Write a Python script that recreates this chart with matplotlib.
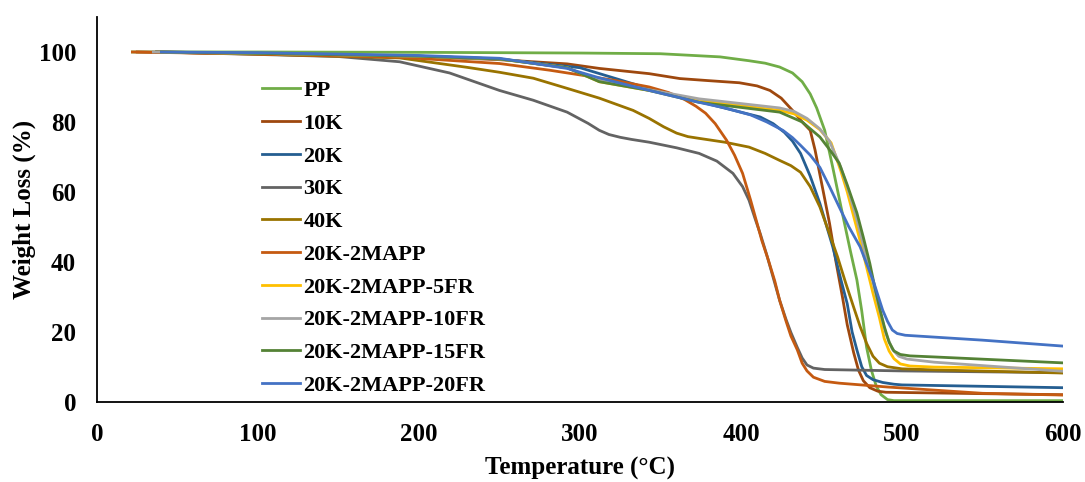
import matplotlib.pyplot as plt

# TGA curves (temperature in °C, weight in %)
pp_t = [22, 100, 200, 300, 350, 387, 405, 415, 424, 432, 438, 443, 447, 452, 457, 463, 468, 472,
        475, 478, 481, 484, 487, 491, 495, 600]
pp_w = [100, 100, 99.9, 99.7, 99.5, 98.6, 97.5, 96.8, 95.7, 94, 91.5, 88, 84, 77.6, 67, 53.8, 43, 34.8,
        26, 15.6, 9, 4.5, 2, 0.6, 0.3, 0.3]

k10_t = [25, 100, 200, 250, 292, 312, 343, 362, 380, 399, 410, 418, 425, 432, 438, 443, 446, 449,
         455, 459, 463, 466, 470, 473, 476, 480, 485, 490, 550, 600]
k10_w = [100, 99.5, 98.7, 97.8, 96.6, 95.3, 93.8, 92.4, 91.8, 91.2, 90.3, 89, 86.8, 83.3, 80, 77.6, 72, 65,
         51, 40, 30, 22, 14, 9, 6, 4, 3, 2.7, 2.3, 2.0]

k20_t = [37, 100, 200, 250, 300, 343, 374, 412, 420, 427, 432, 437, 443, 449, 457, 462, 466, 469,
         472, 475, 478, 482, 488, 495, 500, 600]
k20_w = [100, 99.6, 98.8, 98, 95.5, 89.5, 85.8, 81.4, 79.5, 77, 74.5, 71, 64.5, 56.7, 44.3, 35, 28, 20,
         14.8, 10, 7.5, 6.3, 5.5, 5, 4.8, 4.0]

k30_t = [37, 100, 150, 188, 219, 250, 271, 292, 305, 312, 318, 325, 332, 343, 360, 374, 385, 395, 401,
         405, 409, 412, 416, 420, 424, 428, 431, 435, 438, 441, 445, 452, 500, 600]
k30_w = [100, 99.3, 98.7, 97.2, 94, 89, 86.2, 82.8, 79.6, 77.6, 76.4, 75.6, 75.0, 74.2, 72.6, 71, 68.8, 65.3, 61.5,
         57.6, 52, 48, 42, 35.5, 29, 23.5, 19.8, 15.5, 12.5, 10.5, 9.6, 9.2, 8.8, 8.3]

k40_t = [37, 100, 188, 230, 250, 271, 292, 312, 333, 343, 352, 360, 367, 374, 390, 405, 415, 424,
         431, 437, 443, 449, 455, 460, 465, 470, 474, 478, 482, 486, 491, 500, 520, 600]
k40_w = [100, 99.4, 98.3, 95.6, 94.2, 92.5, 89.6, 86.8, 83.3, 81, 78.6, 76.8, 75.8, 75.3, 74.2, 72.8, 71, 69,
         67.5, 65.6, 61.5, 55.7, 48, 41.4, 34, 27, 21.5, 16.7, 13, 11, 10, 9.4, 9.1, 8.2]

mapp_t = [22, 100, 188, 250, 281, 302, 320, 343, 355, 365, 372, 378, 384, 391, 396, 401, 406, 410,
          413, 417, 421, 424, 428, 431, 435, 438, 441, 445, 452, 461, 491, 550, 600]
mapp_w = [100, 99.4, 98.5, 96.7, 94.8, 93.3, 92, 90, 88.4, 86.4, 84.5, 82.5, 79.5, 74.8, 70.5, 65.3, 57.6, 51,
          46, 40.5, 34.5, 29, 23, 18.8, 14.8, 11, 8.8, 7, 5.8, 5.3, 4.2, 2.4, 1.9]

fr5_t = [40, 100, 200, 250, 292, 312, 343, 374, 424, 433, 441, 449, 456, 462, 466, 470, 474, 478,
         482, 486, 489, 492, 495, 499, 505, 520, 600]
fr5_w = [100, 99.6, 98.8, 98, 95.5, 91.5, 89, 86.2, 83.3, 82.3, 80.5, 77.8, 74, 66, 60, 53, 46, 38.5,
         31, 24, 18, 14.5, 12.3, 10.8, 10.2, 9.9, 9.4]

fr10_t = [35, 100, 200, 250, 292, 312, 343, 374, 424, 433, 441, 449, 455, 462, 467, 472, 477, 482,
          486, 490, 494, 498, 503, 520, 560, 600]
fr10_w = [100, 99.6, 98.8, 98, 95.5, 91.8, 89.2, 86.6, 84, 83, 81, 78, 74.5, 67, 60, 52, 43, 34,
          26.5, 19.5, 15, 13, 12.2, 11.3, 10, 8.7]

fr15_t = [40, 100, 200, 250, 292, 312, 343, 374, 424, 438, 449, 456, 461, 466, 472, 476, 480, 483,
          486, 489, 492, 495, 499, 505, 520, 600]
fr15_w = [100, 99.6, 98.8, 98, 95.5, 91.5, 89, 85.6, 82.8, 80, 75.7, 71.5, 68.2, 62, 54, 47, 39.6, 33,
          27, 21.5, 17, 14.5, 13.5, 13.1, 12.8, 11.1]

fr20_t = [40, 100, 200, 250, 292, 312, 343, 374, 390, 406, 416, 426, 432, 437, 443, 449, 455, 461,
          467, 474, 478, 482, 485, 488, 491, 494, 497, 502, 550, 600]
fr20_w = [100, 99.8, 99, 98.2, 95.3, 92.6, 89, 85.6, 84, 82, 80, 77.6, 75.5, 73.3, 70.5, 67, 61.5, 55.7,
          50, 44.3, 39.5, 34.8, 30.5, 26.2, 23, 20.5, 19.5, 19, 17.6, 15.9]

labels = ['PP', '10K', '20K', '30K', '40K', '20K-2MAPP', '20K-2MAPP-5FR',
          '20K-2MAPP-10FR', '20K-2MAPP-15FR', '20K-2MAPP-20FR']
colors = ['#70AD47', '#9E480E', '#255E91', '#636363', '#997300', '#C55A11',
          '#FFC000', '#A5A5A5', '#548235', '#4472C4']
series = [(pp_t, pp_w), (k10_t, k10_w), (k20_t, k20_w), (k30_t, k30_w), (k40_t, k40_w),
          (mapp_t, mapp_w), (fr5_t, fr5_w), (fr10_t, fr10_w), (fr15_t, fr15_w), (fr20_t, fr20_w)]

plt.rcParams['font.family'] = 'Liberation Serif'
plt.rcParams['font.weight'] = 'bold'

fig = plt.figure(figsize=(10.85, 4.82), dpi=100)
ax = fig.add_axes([0.0894, 0.1666, 0.8903, 0.7981])

for (t, w), lab, col in zip(series, labels, colors):
    ax.plot(t, w, color=col, linewidth=2, label=lab, solid_joinstyle='round')

ax.set_xlim(0, 600)
ax.set_ylim(0, 110)
ax.set_xticks(range(0, 601, 100))
ax.set_yticks(range(0, 101, 20))
ax.tick_params(length=0, labelsize=18, pad=15)
for side in ['top', 'right']:
    ax.spines[side].set_visible(False)
for side in ['left', 'bottom']:
    ax.spines[side].set_linewidth(1.3)
    ax.spines[side].set_color('black')

ax.set_xlabel('Temperature (°C)', fontsize=18, fontweight='bold', labelpad=8)
ax.set_ylabel('Weight Loss (%)', fontsize=18, fontweight='bold', labelpad=2)

ax.legend(loc='upper left', bbox_to_anchor=(0.171, 0.835), frameon=False,
          fontsize=16, handlelength=1.7, handletextpad=0.15, labelspacing=0.55,
          borderpad=0, borderaxespad=0)

fig.savefig('out.png', dpi=100)
